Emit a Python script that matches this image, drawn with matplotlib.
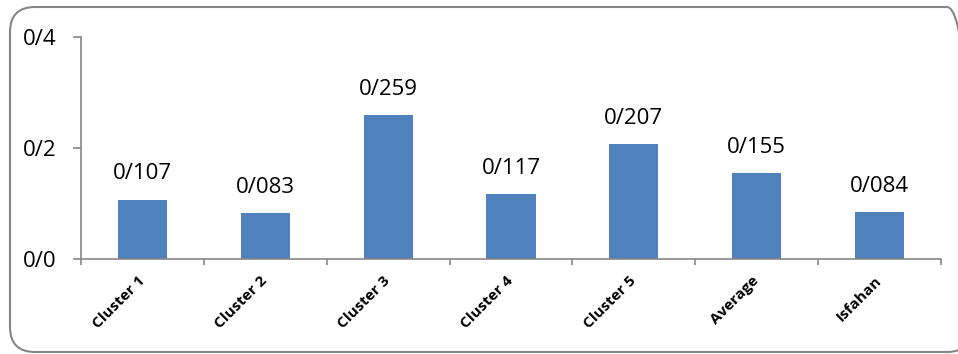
import matplotlib.pyplot as plt
from matplotlib.patches import FancyBboxPatch
from matplotlib.transforms import IdentityTransform

# cluster scores (decimal separator written as "/")
categories = ['Cluster 1', 'Cluster 2', 'Cluster 3', 'Cluster 4', 'Cluster 5', 'Average', 'Isfahan']
values = [0.107, 0.083, 0.259, 0.117, 0.207, 0.155, 0.084]
yticks = [0.0, 0.2, 0.4]

def slash(v, nd):
    return f"{v:.{nd}f}".replace('.', '/')

plt.rcParams['font.family'] = ['Open Sans', 'DejaVu Sans']

fig = plt.figure(figsize=(9.58, 3.54), dpi=100)
ax = fig.add_axes([81/958, 1 - 259/354, 860/958, 222/354])

x = list(range(len(categories)))
bars = ax.bar(x, values, width=0.4, color='#4f81bd', zorder=2)

for xi, v in zip(x, values):
    ax.annotate(slash(v, 3), (xi, v), xytext=(0, 11), textcoords='offset points',
                ha='center', va='bottom', fontsize=16, color='black')

ax.set_xlim(-0.5, len(categories) - 0.5)
ax.set_ylim(0, 0.4)
ax.set_yticks(yticks)
ax.set_yticklabels([slash(t, 1) for t in yticks], fontsize=16)

# category ticks sit on the boundaries between bars
ax.set_xticks([i - 0.5 for i in range(len(categories) + 1)], minor=False)
ax.set_xticklabels([])
ax.set_xticks(x, minor=True)
ax.set_xticklabels(categories, minor=True, rotation=45, rotation_mode='anchor',
                   ha='right', va='center', fontsize=11, fontweight='bold')
ax.tick_params(axis='x', which='minor', length=0, pad=14)
ax.tick_params(axis='x', which='major', length=4.5, width=1.2, color='#868686', direction='out')
ax.tick_params(axis='y', length=6, width=1.2, color='#868686', pad=12)

for side in ['top', 'right']:
    ax.spines[side].set_visible(False)
for side in ['left', 'bottom']:
    ax.spines[side].set_color('#868686')
    ax.spines[side].set_linewidth(1.2)

# rounded chart-area frame, in pixel units (y measured from the bottom)
frame = FancyBboxPatch((10, 2), 962, 345,
                       boxstyle='round,pad=0,rounding_size=25',
                       transform=IdentityTransform(), fill=False,
                       edgecolor='#868686', linewidth=1.5)
fig.patches.append(frame)

fig.savefig('out.png', dpi=100)
